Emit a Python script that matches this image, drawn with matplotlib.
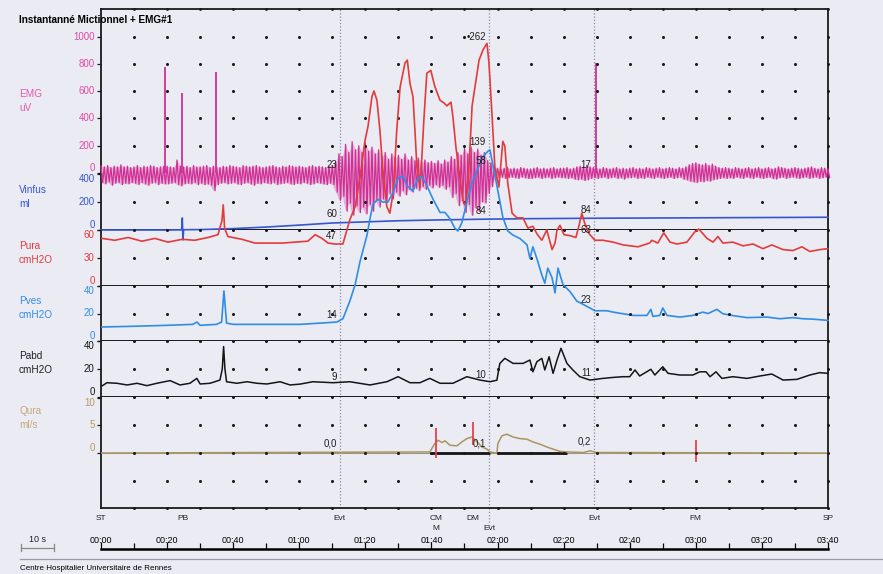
import numpy as np
import matplotlib.pyplot as plt

plt.rcParams['font.family'] = ['Liberation Sans', 'DejaVu Sans']

W, H = 883, 574
X0, X1 = 101, 828          # left / right edge of the traces, px
T_MAX = 220                # s

# ---------------- data (time in seconds) ----------------
# EMG envelope (max / min), one value per second (t = 0..220)
emg_hi = [50, 45, 55, 40, 50, 45, 60, 45, 50, 40,
          45, 55, 40, 50, 45, 55, 50, 40, 45, 50,
          50, 45, 40, 95, 50, 45, 50, 40, 55, 45,
          45, 50, 55, 40, 50, 45, 40, 50, 45, 55,
          50, 45, 40, 55, 50, 45, 50, 55, 45, 40,
          45, 50, 55, 45, 40, 50, 45, 55, 50, 45,
          50, 45, 40, 50, 55, 45, 50, 45, 40, 50,
          55, 80, 140, 120, 210, 150, 230, 170, 200, 150,
          220, 160, 190, 140, 170, 120, 150, 100, 140, 110,
          130, 100, 140, 95, 120, 90, 110, 80, 95, 75,
          85, 70, 90, 65, 95, 80, 120, 100, 150, 130,
          180, 140, 190, 150, 175, 130, 150, 90, 75, 45,
          35, 30, 35, 40, 30, 35, 30, 40, 35, 30,
          30, 35, 40, 30, 35, 30, 35, 40, 30, 35,
          35, 40, 30, 35, 45, 50, 45, 55, 45, 40,
          35, 30, 40, 35, 30, 35, 40, 30, 35, 30,
          35, 40, 30, 35, 30, 40, 35, 30, 35, 40,
          30, 35, 40, 35, 30, 40, 35, 45, 60, 70,
          75, 65, 60, 70, 55, 65, 50, 40, 35, 40,
          35, 30, 40, 35, 30, 35, 40, 30, 35, 40,
          30, 35, 40, 30, 35, 45, 40, 35, 30, 35,
          40, 35, 30, 35, 40, 45, 35, 30, 40, 35, 30]
emg_lo = [-70, -80, -65, -90, -75, -70, -85, -75, -80, -70,
          -75, -85, -70, -80, -90, -75, -70, -85, -75, -80,
          -80, -75, -70, -85, -95, -80, -75, -80, -70, -85,
          -75, -85, -80, -90, -130, -85, -75, -70, -80, -75,
          -70, -80, -85, -75, -70, -80, -90, -75, -80, -70,
          -75, -80, -70, -85, -80, -75, -70, -80, -85, -75,
          -80, -70, -75, -85, -80, -70, -75, -80, -85, -75,
          -85, -140, -200, -170, -280, -220, -310, -240, -290, -250,
          -300, -230, -280, -200, -250, -190, -220, -150, -190, -140,
          -170, -130, -160, -120, -140, -110, -130, -100, -120, -90,
          -110, -85, -105, -90, -120, -100, -180, -150, -240, -200,
          -290, -230, -310, -250, -280, -210, -220, -150, -100, -50,
          -35, -30, -40, -35, -30, -35, -40, -30, -35, -40,
          -40, -35, -30, -40, -35, -30, -40, -35, -30, -35,
          -35, -40, -35, -45, -50, -45, -55, -50, -40, -35,
          -40, -35, -30, -40, -35, -30, -40, -35, -45, -35,
          -35, -30, -40, -35, -40, -30, -35, -40, -30, -35,
          -40, -35, -30, -40, -35, -30, -45, -50, -60, -65,
          -70, -60, -65, -55, -60, -50, -45, -40, -35, -40,
          -35, -40, -30, -35, -40, -30, -35, -40, -30, -35,
          -40, -35, -30, -40, -45, -35, -30, -40, -35, -30,
          -35, -40, -35, -30, -40, -35, -30, -40, -35, -30, -35]
emg_t = np.arange(len(emg_hi))
emg_spike_t = [19.5, 24.4, 34.8, 149.7]
emg_spike_v = [780, 590, 742, 804]

vinf_t = [0, 20, 24.4, 24.6, 24.8, 25.0, 30, 40, 50, 60, 70, 80, 90, 100, 115, 130, 150, 180, 220]
vinf_v = [0, 0, 1, 86, -71, 2, 3, 10, 21, 35, 50, 58, 66, 71, 77, 81, 84, 87, 91]

pura_t = [0.3, 4.2, 8.2, 12.4, 16.3, 20.3, 24.5, 28.4, 32.4, 35.4, 36.6, 37.0, 37.4, 38.4,
          42.7, 46.6, 50.5, 54.8, 58.7, 62.6, 64.8, 66.9, 68.7, 70.8, 73.2, 75.3, 76.9, 78.4,
          79.9, 80.8, 82.0, 82.6, 83.5, 84.4, 85.3, 86.5, 87.4, 88.4, 89.5, 90.5, 92.0, 92.7,
          93.5, 94.4, 95.0, 95.6, 96.5, 97.0, 97.7, 98.6, 99.8, 101.0, 102.6, 103.8, 104.7,
          105.9, 106.5, 107.4, 108.3, 109.5, 110.4, 111.3, 112.3, 113.2, 114.4, 115.6, 116.8,
          117.4, 118.3, 119.2, 120.4, 121.6, 122.2, 123.1, 124.4, 125.9, 127.7, 129.2, 130.7,
          131.9, 133.4, 134.9, 136.5, 137.4, 138.0, 138.9, 140.1, 141.9, 143.7, 144.6, 145.5,
          146.4, 147.7, 149.5, 151.9, 155.0, 158.0, 162.5, 166.0, 166.7, 168.5, 170.3, 172.2,
          174.3, 177.3, 179.7, 180.9, 183.4, 185.2, 186.7, 188.2, 191.2, 194.3, 197.3, 200.3,
          203.0, 206.4, 209.4, 212.1, 214.5, 217.5, 220.0]
pura_v = [51, 49, 52, 48, 51, 47, 50, 49, 52, 55, 70, 87, 62, 53,
          50, 46, 46, 46, 47, 48, 55, 51, 46, 45, 45, 71, 85, 117,
          156, 171, 203, 209, 199, 167, 124, 85, 78, 100, 167, 213, 239, 242,
          217, 203, 167, 127, 106, 132, 178, 228, 231, 214, 199, 196, 193,
          197, 181, 149, 124, 92, 85, 124, 193, 214, 242, 253, 260,
          239, 185, 127, 106, 155, 150, 110, 78, 73, 73, 62, 64,
          56, 49, 60, 39, 46, 60, 65, 55, 54, 52, 64, 78,
          67, 56, 49, 49, 47, 44, 42, 46, 49, 46, 57, 47,
          45, 47, 58, 61, 51, 47, 53, 46, 47, 43, 45, 40,
          44, 39, 38, 42, 37, 39, 40]

pves_t = [0.3, 9.7, 20, 27.8, 29, 30, 35, 36.5, 37.2, 38, 40, 50, 58, 60.2, 66.3, 71.4,
          73.2, 75.3, 76.9, 78.4, 80.5, 81.4, 82.3, 83.8, 85.3, 86.8, 88.4, 89.9, 91.4,
          92.6, 94.4, 95.6, 97.1, 98.6, 100.5, 102.6, 104.1, 105.6, 107.1, 108, 109.2,
          110.7, 112.3, 113.8, 115.6, 117.1, 117.7, 118.6, 119.8, 121.6, 123.1, 124.7,
          126.8, 128.9, 129.8, 130.7, 131.9, 133.4, 134.3, 135.2, 136.5, 137.4, 138.3,
          139.8, 141.9, 144, 146.4, 149.5, 153.1, 155, 158, 161, 165.2, 166.4, 167,
          169.1, 170, 171.3, 175.2, 179.1, 182.1, 183.7, 186.4, 188.2, 190.9, 195.5,
          201.5, 205.4, 209.4, 212.4, 215.4, 220]
pves_v = [10.2, 10.7, 11.4, 12.1, 13.8, 11.4, 12.1, 13.8, 36.4, 13, 12.1, 12.1, 12.1, 12.1, 13, 13.8,
          16.2, 29, 41, 58, 77, 89, 99.5, 103, 101, 101, 108, 118.5, 120,
          113, 109, 117, 120, 113, 103, 93.5, 93.5, 89, 82, 80, 86,
          101, 115, 124, 134, 138, 139, 128, 113, 90, 80, 77,
          74.5, 70, 60, 68.5, 60, 48, 42, 53, 46, 35, 53,
          41, 36, 29, 26, 22, 22, 21, 19.8, 18.6, 18.6, 23, 17.9,
          18.6, 24, 18.6, 17.4, 18.6, 21, 20, 23, 19.8, 18.6, 17,
          17.4, 16.2, 17, 16.2, 15.9, 15]

pabd_t = [0.3, 1.8, 4.8, 7.9, 10.9, 13.9, 16.9, 20.9, 23.9, 26.9, 29, 30, 33, 36, 36.7, 37.1,
          37.5, 38, 41.1, 44.2, 47.2, 50.2, 54.2, 57.2, 60.2, 64.1, 70.2, 75.3, 81.4, 86.5,
          89.9, 93.5, 96.5, 99.5, 102.6, 106.5, 110.7, 114.7, 117.7, 119.8, 120.7, 122.2,
          124.7, 127.7, 129.8, 130.7, 131.9, 133.4, 134.3, 135.6, 136.8, 138, 139.2, 141,
          142.8, 144.9, 148, 151.9, 155, 158, 160, 161.6, 163, 166.4, 167.6, 170, 171.6,
          175.2, 179.1, 181.2, 183.1, 184.3, 186.1, 187.9, 191.2, 195.5, 199.4, 203, 206.4,
          210.6, 214.5, 217.5, 220]
pabd_v = [7.9, 10.2, 9.8, 8.6, 9.8, 8.1, 9.8, 11.7, 8.6, 9.8, 13.3, 9.3, 9.8, 12.1, 20, 36,
          20, 10.9, 9.8, 10.9, 9.8, 9.3, 10.9, 8.6, 9.2, 10.9, 10.2, 10.9, 8.6, 10.9,
          14.5, 10.2, 10.2, 13.3, 9.8, 9.8, 14.5, 12.1, 10.9, 12, 24, 27.6,
          24, 24, 26.4, 18, 25.2, 27.6, 19.3, 28.8, 16.9, 26.4, 34.8, 24,
          19.3, 14.5, 12.1, 13.3, 14, 14.5, 14.5, 19.3, 15, 19.8, 15.7, 21.6, 16.9,
          15.7, 15.7, 18, 18, 14.5, 18, 13.3, 14.5, 13.3, 15, 16.4, 12.1,
          12.6, 15.7, 17.4, 16.9]

qura_t = [0, 99.5, 101, 102, 103.2, 104.1, 105.6, 107.7, 109.2, 110.7, 112.3, 113.8, 115.3,
          116.8, 117.7, 119.8, 120.1, 121.3, 122.8, 124.7, 126.8, 128.9, 130.7, 132.8, 134.9,
          136.8, 138.9, 141, 146, 148, 150, 220]
qura_v = [0, 0.2, 1.7, 2.3, 1.9, 2.2, 1.4, 1.3, 2.0, 2.6, 2.9, 2.0, 1.1,
          0.7, 0.2, 0.0, 1.7, 3.1, 3.4, 2.9, 2.6, 2.5, 2.0, 1.6, 1.1,
          0.7, 0.3, 0.2, 0.1, 0.4, 0.1, 0]
void_start = [99.5, 119.8]
void_end = [117.7, 141.0]
mark_t = [101.4, 112.6, 180.0]
mark_lo = [-0.9, 1.4, -1.6]
mark_hi = [4.5, 5.6, 2.3]

event_t = [0, 24.8, 72.3, 101.4, 101.4, 112.6, 117.4, 149.2, 180, 220]
event_lbl = ['ST', 'PB', 'Evt', 'CM', 'M', 'DM', 'Evt', 'Evt', 'FM', 'SP']
event_row = [0, 0, 0, 0, 1, 0, 1, 0, 0, 0]
evt_lines = [72.3, 117.4, 149.2]

time_ticks = list(range(0, 221, 20))
time_lbls = ['00:00', '00:20', '00:40', '01:00', '01:20', '01:40', '02:00',
             '02:20', '02:40', '03:00', '03:20', '03:40']

emg_ticks = [0, 200, 400, 600, 800, 1000]
vinf_ticks = [0, 200, 400]
pura_ticks = [0, 30, 60]
pves_ticks = [0, 20, 40]
pabd_ticks = [0, 20, 40]
qura_ticks = [0, 5, 10]

# values printed next to the event lines: (event line, text, y px)
evt_values = [(72.3, '23', 165), (72.3, '60', 214), (72.3, '47', 236), (72.3, '14', 315),
              (72.3, '9', 377), (72.3, '0,0', 444),
              (117.4, '\u2022262', 37), (117.4, '139', 142), (117.4, '58', 161),
              (117.4, '84', 211), (117.4, '10', 375), (117.4, '0,1', 443),
              (149.2, '17', 165), (149.2, '84', 210), (149.2, '63', 230), (149.2, '23', 300),
              (149.2, '11', 373), (149.2, '0,2', 441)]

emg_c = '#d12f96'
vinf_c = '#3556d0'
pura_c = '#e23b3b'
pves_c = '#2f8de6'
pabd_c = '#151515'
qura_c = '#a89560'

# ---------------- figure ----------------
fig = plt.figure(figsize=(W / 100, H / 100), dpi=100)
fig.patch.set_facecolor('#ebebf3')

PXS = (X1 - X0) / T_MAX
dot_t = np.arange(10, 221, 10)


def make_ax(y_top, y_bot, ylim):
    ax = fig.add_axes([X0 / W, 1 - y_bot / H, (X1 - X0) / W, (y_bot - y_top) / H])
    ax.set_xlim(0, T_MAX)
    ax.set_ylim(*ylim)
    ax.patch.set_visible(False)
    for s in ax.spines.values():
        s.set_visible(False)
    ax.set_xticks([])
    ax.set_yticks([])
    return ax


def yaxis(ax, ticks, color, va):
    ax.set_yticks(ticks)
    ax.set_yticklabels([str(v) for v in ticks])
    ax.tick_params(axis='y', direction='out', length=3, width=0.9, color='#1a1a1a',
                   labelcolor=color, labelsize=7, pad=1.5)
    for lab, a in zip(ax.get_yticklabels(), va):
        lab.set_va(a)


def dots(ax, levels, ms=2.2):
    for lv in levels:
        ax.plot(dot_t, [lv] * len(dot_t), ls='none', marker='o', ms=ms, mew=0,
                color='#1a1a1a', clip_on=False, zorder=4)


# frame + event lines
frame = make_ax(9, 508, (0, 1))
for s in frame.spines.values():
    s.set_visible(True)
    s.set_linewidth(1.3)
    s.set_color('#1a1a1a')
for t in evt_lines:
    frame.axvline(t, color='#8c8ca4', lw=0.9, ls=(0, (1, 1.6)))
frame.plot([117.4, 117.4], [0, -0.04], color='#8c8ca4', lw=0.9, ls=(0, (1, 1.6)), clip_on=False)
dots(frame, [1], ms=2.0)

# EMG: max/min per second drawn as a zig-zag
ax = make_ax(9, 173, (0, 1202))
zz_t = np.column_stack([emg_t, emg_t + 0.5]).ravel()
zz_v = np.column_stack([emg_hi, emg_lo]).ravel()
ax.fill_between(emg_t, emg_lo, emg_hi, color=emg_c, alpha=0.3, lw=0, clip_on=False)
ax.plot(zz_t, zz_v, color=emg_c, lw=0.9, clip_on=False)
ax.vlines(emg_spike_t, 0, emg_spike_v, color=emg_c, lw=1.3)
ax.axhline(0, color='#222222', lw=0.7, zorder=3)
yaxis(ax, emg_ticks, '#e04aa6', ['bottom', 'center', 'center', 'center', 'center', 'center'])
dots(ax, [200, 400, 600, 800, 1000])

# Vinfus
ax = make_ax(173, 230, (0, 407))
ax.plot(vinf_t, vinf_v, color=vinf_c, lw=1.2, clip_on=False)
ax.axhline(0, color='#1a1a1a', lw=1.4, zorder=1)
yaxis(ax, vinf_ticks, vinf_c, ['bottom', 'center', 'top'])
dots(ax, [0, 200])

# Pura
ax = make_ax(230, 286, (0, 60))
ax.plot(pura_t, pura_v, color=pura_c, lw=1.2, clip_on=False)
ax.axhline(0, color='#1a1a1a', lw=1.4, zorder=1)
yaxis(ax, pura_ticks, pura_c, ['bottom', 'center', 'top'])
dots(ax, [0, 30])

# Pves
ax = make_ax(286, 341, (0, 40))
ax.plot(pves_t, pves_v, color=pves_c, lw=1.2, clip_on=False)
ax.axhline(0, color='#1a1a1a', lw=1.4, zorder=1)
yaxis(ax, pves_ticks, pves_c, ['bottom', 'center', 'top'])
dots(ax, [0, 20])

# Pabd
ax = make_ax(341, 397, (0, 40))
ax.plot(pabd_t, pabd_v, color=pabd_c, lw=1.1, clip_on=False)
ax.axhline(0, color='#1a1a1a', lw=1.4, zorder=1)
yaxis(ax, pabd_ticks, pabd_c, ['bottom', 'center', 'top'])
dots(ax, [0, 20])

# Qura
ax = make_ax(397, 508, (-9.9, 10.1))
ax.axhline(0, color='#9a9a8a', lw=0.8, zorder=1)
ax.hlines([0] * len(void_start), void_start, void_end, color='#151515', lw=2.0, zorder=2)
ax.plot(qura_t, qura_v, color=qura_c, lw=1.1, zorder=3)
ax.vlines(mark_t, mark_lo, mark_hi, color='#e8404a', lw=1.3, zorder=4)
yaxis(ax, qura_ticks, '#b89a62', ['bottom', 'center', 'top'])
dots(ax, [5, 0, -5, -9.9])

# time axis
tax = fig.add_axes([X0 / W, 1 - 549 / H, (X1 - X0) / W, 1 / H])
tax.set_xlim(0, T_MAX)
tax.set_ylim(0, 1)
tax.patch.set_visible(False)
for k in ['top', 'left', 'right']:
    tax.spines[k].set_visible(False)
tax.spines['bottom'].set_linewidth(1.8)
tax.set_yticks([])
tax.set_xticks(time_ticks)
tax.set_xticklabels(time_lbls)
tax.set_xticks(list(range(10, 220, 20)), minor=True)
tax.tick_params(axis='x', which='both', direction='in', bottom=True, top=False,
                labelbottom=False, labeltop=True, labelsize=6.5, pad=2, width=0.9)
tax.tick_params(axis='x', which='major', length=5)
tax.tick_params(axis='x', which='minor', length=4)

# texts (pixel coordinates)
ov = fig.add_axes([0, 0, 1, 1])
ov.set_xlim(0, W)
ov.set_ylim(H, 0)
ov.axis('off')

ov.text(19, 20, 'Instantanné Mictionnel + EMG#1', fontsize=7.2, fontweight='bold', va='center')

ch_labels = [('EMG', 'uV', 94, '#e05aae'), ('Vinfus', 'ml', 190, vinf_c),
             ('Pura', 'cmH2O', 246, pura_c), ('Pves', 'cmH2O', 301, pves_c),
             ('Pabd', 'cmH2O', 356, '#222222'), ('Qura', 'ml/s', 411, '#c4aa7c')]
for name, unit, y, c in ch_labels:
    ov.text(19, y, name, color=c, fontsize=7.2, va='center')
    ov.text(19, y + 14, unit, color=c, fontsize=7.2, va='center')

for t, s, y in evt_values:
    ov.text(X0 + t * PXS - 3, y, s, fontsize=7, ha='right', va='center', color='#222222')

for t, s, r in zip(event_t, event_lbl, event_row):
    ov.text(X0 + t * PXS, 518 + 11 * r, s, fontsize=6, ha='center', va='center', color='#222222')

# 10 s scale bar
ov.plot([21, 21 + 10 * PXS], [548, 548], color='#888888', lw=0.9)
ov.plot([21, 21], [544, 551], color='#888888', lw=0.9)
ov.plot([21 + 10 * PXS, 21 + 10 * PXS], [544, 551], color='#888888', lw=0.9)
ov.text(21 + 5 * PXS, 540, '10 s', fontsize=6.5, ha='center', va='center', color='#222222')

ov.plot([20, W], [559, 559], color='#9a9aa6', lw=0.9)
ov.text(20, 568, 'Centre Hospitalier Universitaire de Rennes', fontsize=5.8, va='center')

fig.savefig('out.png', dpi=100, facecolor=fig.get_facecolor())
